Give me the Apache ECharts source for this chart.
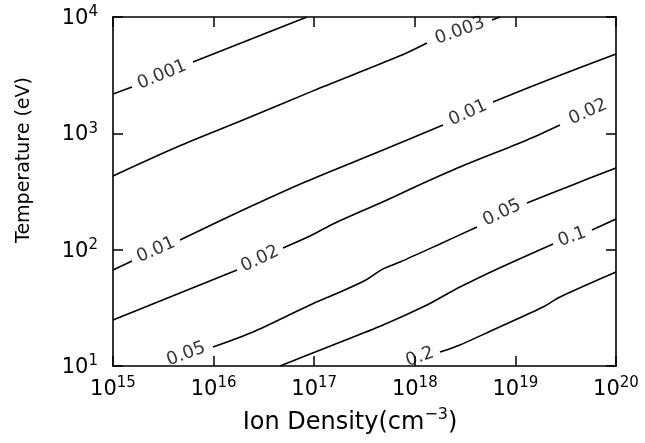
<!DOCTYPE html>
<html>
<head>
<meta charset="utf-8">
<script src="https://cdn.jsdelivr.net/npm/echarts@6/dist/echarts.min.js"></script>
<style>
  html, body { margin: 0; padding: 0; background: #fff; }
  #chart { width: 645px; height: 443px; }
</style>
</head>
<body>
<div id="chart"></div>
<script>
// all points are [log10 density (cm^-3), log10 temperature (eV)]
const levels = ['0.001', '0.003', '0.01', '0.02', '0.05', '0.1', '0.2'];

// contour paths, null = gap where the label sits
const line001 = [[15.000, 3.339], [15.189, 3.399], null, [15.795, 3.614], [16.928, 4.001]];
const line003 = [[15.000, 2.634], [15.636, 2.883], [16.292, 3.115], [16.988, 3.365], [17.853, 3.666], [18.121, 3.777], null, [18.767, 3.975], [18.847, 4.001]];
const line01 = [[15.000, 1.825], [15.189, 1.903], null, [15.666, 2.083], [16.292, 2.341], [16.909, 2.582], [17.684, 2.857], [18.280, 3.072], null, [18.777, 3.270], [19.374, 3.476], [20.000, 3.683]];
const line02 = [[15.000, 1.396], [16.233, 1.825], null, [16.690, 2.015], [16.958, 2.118], [17.187, 2.221], [17.724, 2.427], [18.022, 2.548], [18.449, 2.711], [19.115, 2.943], [19.443, 3.072]];
const line05 = [[15.994, 1.163], [16.392, 1.292], [16.958, 1.525], [17.187, 1.610], [17.505, 1.735], [17.684, 1.835], [17.853, 1.894], [18.250, 2.049], [18.618, 2.195], null, [19.115, 2.402], [19.543, 2.548], [20.000, 2.703]];
const line1 = [[16.660, 1.000], [16.859, 1.069], [17.187, 1.181], [17.684, 1.353], [18.121, 1.525], [18.320, 1.619], [18.449, 1.679], [18.777, 1.817], [19.374, 2.049], null, [19.761, 2.169], [20.000, 2.264]];
const line2 = [[18.250, 1.120], [18.449, 1.181], [18.777, 1.310], [19.274, 1.507], [19.443, 1.593], [20.000, 1.808]];

// where the labels sit on each contour
const label001 = [[15.487, 3.502]];
const label003 = [[18.449, 3.880]];
const label01 = [[15.427, 1.997], [18.529, 3.175]];
const label02 = [[16.461, 1.920], [19.722, 3.184]];
const label05 = [[15.726, 1.103], [18.867, 2.316]];
const label1 = [[19.563, 2.109]];
const label2 = [[18.052, 1.077]];

const paths = [line001, line003, line01, line02, line05, line1, line2];
const labels = [label001, label003, label01, label02, label05, label1, label2];

const FONT = 'DejaVu Sans';
const toVal = p => [Math.pow(10, p[0]), Math.pow(10, p[1])];

function segments(path) {
  const out = [[]];
  path.forEach(p => {
    if (p === null) out.push([]);
    else out[out.length - 1].push(toVal(p));
  });
  return out.filter(s => s.length > 1);
}

const supLabel = v => '{b|10}{s|' + Math.round(Math.log10(v)) + '}';
const supRich = {
  b: { fontFamily: FONT, fontSize: 21, color: '#000', lineHeight: 24, verticalAlign: 'bottom' },
  s: { fontFamily: FONT, fontSize: 15, color: '#000', lineHeight: 15, verticalAlign: 'top' }
};

const axisCommon = {
  type: 'log',
  logBase: 10,
  axisLine: { show: true, lineStyle: { color: '#000', width: 1.6 } },
  axisTick: { show: true, inside: true, length: 10, lineStyle: { color: '#000', width: 1.5 } },
  splitLine: { show: false },
  minorTick: { show: false }
};

const lineSeries = [];
paths.forEach(path => {
  segments(path).forEach(seg => {
    lineSeries.push({
      type: 'line',
      data: seg,
      symbol: 'none',
      smooth: 0.3,
      silent: true,
      lineStyle: { color: '#000', width: 1.6 }
    });
  });
});

const chart = echarts.init(document.getElementById('chart'));
chart.setOption({
  animation: false,
  backgroundColor: '#fff',
  grid: { left: 113, right: 29, top: 17, bottom: 77 },
  xAxis: [
    Object.assign({}, axisCommon, {
      position: 'bottom', min: 1e15, max: 1e20, splitNumber: 5,
      axisLabel: { margin: 10, formatter: supLabel, rich: supRich }
    }),
    Object.assign({}, axisCommon, {
      position: 'top', min: 1e15, max: 1e20, splitNumber: 5,
      axisLabel: { show: false }
    })
  ],
  yAxis: [
    Object.assign({}, axisCommon, {
      position: 'left', min: 1e1, max: 1e4, splitNumber: 3,
      axisLabel: { margin: 15, formatter: supLabel, rich: supRich }
    }),
    Object.assign({}, axisCommon, {
      position: 'right', min: 1e1, max: 1e4, splitNumber: 3,
      axisLabel: { show: false }
    })
  ],
  graphic: [
    {
      type: 'text', x: 24, y: 160, rotation: Math.PI / 2,
      style: { text: 'Temperature (eV)', fontFamily: FONT, fontSize: 19, fill: '#000', align: 'center', verticalAlign: 'middle' }
    },
    {
      type: 'text', x: 350, y: 421,
      style: {
        text: '{b|Ion Density(cm}{s|−3}{b|)}', fill: '#000', align: 'center', verticalAlign: 'middle',
        rich: {
          b: { fontFamily: FONT, fontSize: 24, fill: '#000', lineHeight: 28, verticalAlign: 'bottom' },
          s: { fontFamily: FONT, fontSize: 16, fill: '#000', lineHeight: 16, verticalAlign: 'top' }
        }
      }
    }
  ],
  series: lineSeries
});

// rotate each label along its contour, using the nearest points either side
function labelAngle(path, at) {
  const px = path.filter(p => p !== null).map(p => chart.convertToPixel({ gridIndex: 0 }, toVal(p)));
  const c = chart.convertToPixel({ gridIndex: 0 }, toVal(at));
  const before = px.filter(p => p[0] < c[0]).sort((a, b) => b[0] - a[0]);
  const after = px.filter(p => p[0] > c[0]).sort((a, b) => a[0] - b[0]);
  let a, b;
  if (before.length && after.length) { a = before[0]; b = after[0]; }
  else if (after.length) { a = after[0]; b = after[1]; }
  else { a = before[1]; b = before[0]; }
  return Math.atan2(a[1] - b[1], b[0] - a[0]) * 180 / Math.PI;
}

const labelData = [];
labels.forEach((list, i) => {
  list.forEach(at => {
    labelData.push({
      value: toVal(at),
      label: { formatter: levels[i], rotate: labelAngle(paths[i], at) }
    });
  });
});

chart.setOption({
  series: lineSeries.concat([{
    type: 'scatter',
    data: labelData,
    symbolSize: 1,
    silent: true,
    z: 5,
    itemStyle: { color: 'rgba(0,0,0,0)' },
    label: { show: true, position: 'inside', color: '#000', fontFamily: FONT, fontSize: 18 }
  }])
});
</script>
</body>
</html>
